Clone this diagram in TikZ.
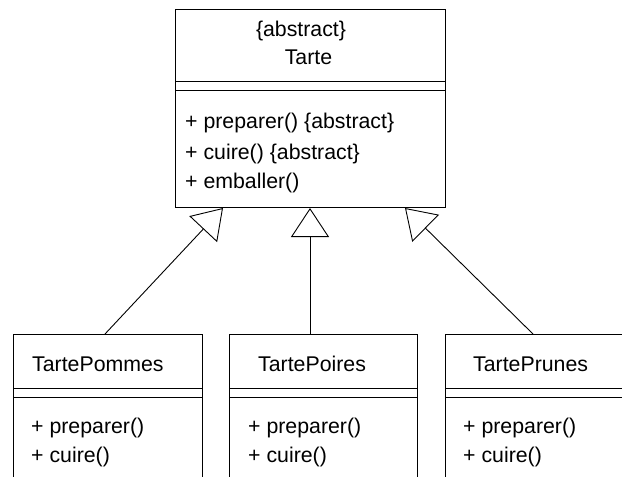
\documentclass[tikz,border=0pt]{standalone}
\usepackage{fontspec}
\setmainfont{Liberation Sans}
\usetikzlibrary{arrows.meta}
\tikzset{
  box/.style={draw, line width=0.9pt, rectangle, inner sep=0pt, anchor=north west},
  divider/.style={line width=0.9pt},
  lbl/.style={inner sep=0pt, anchor=base west, font=\fontsize{21.3pt}{25pt}\selectfont},
  clbl/.style={inner sep=0pt, anchor=base, font=\fontsize{21.3pt}{25pt}\selectfont},
  inherit/.style={line width=0.9pt, -{Triangle[open, length=29pt, width=38pt]}},
}
\begin{document}
\begin{tikzpicture}[x=1pt, y=-1pt]
\clip (0,0) rectangle (622,477);
\fill[white] (0,0) rectangle (622,477);
% Abstract class
\node[box, minimum width=270pt, minimum height=198pt] (tarte) at (175,9) {};
\draw[divider] (175,81) -- (445,81);
\draw[divider] (175,90) -- (445,90);
\node[clbl] (tabs) at (301,36) {\{abstract\}};
\node[clbl] (tname) at (308.5,64) {Tarte};
\node[lbl] (tm1) at (185,128) {+ preparer() \{abstract\}};
\node[lbl] (tm2) at (185,159) {+ cuire() \{abstract\}};
\node[lbl] (tm3) at (185,188) {+ emballer()};
% Subclasses
\node[box, minimum width=189pt, minimum height=170pt] (pommes) at (13,334) {};
\node[box, minimum width=188pt, minimum height=170pt] (poires) at (229,334) {};
\node[box, minimum width=189pt, minimum height=170pt] (prunes) at (445,334) {};
\foreach \xa/\xb in {13/202, 229/417, 445/634} {
  \draw[divider] (\xa,388) -- (\xb,388);
  \draw[divider] (\xa,397) -- (\xb,397);
}
\node[lbl] (pname) at (32,371) {TartePommes};
\node[lbl] (pm1) at (31,433) {+ preparer()};
\node[lbl] (pm2) at (31,462) {+ cuire()};
\node[lbl] (oname) at (258,371) {TartePoires};
\node[lbl] (om1) at (248,433) {+ preparer()};
\node[lbl] (om2) at (248,462) {+ cuire()};
\node[lbl] (rname) at (473,371) {TartePrunes};
\node[lbl] (rm1) at (463,433) {+ preparer()};
\node[lbl] (rm2) at (463,462) {+ cuire()};
% Connector end points
\coordinate (s1) at (105,334);
\coordinate (s2) at (310,334);
\coordinate (s3) at (533,334);
\coordinate (e1) at (223,208);
\coordinate (e2) at (310,208);
\coordinate (e3) at (405,208);
\draw[inherit] (s1) -- (e1);
\draw[inherit] (s2) -- (e2);
\draw[inherit] (s3) -- (e3);
\end{tikzpicture}
\end{document}
